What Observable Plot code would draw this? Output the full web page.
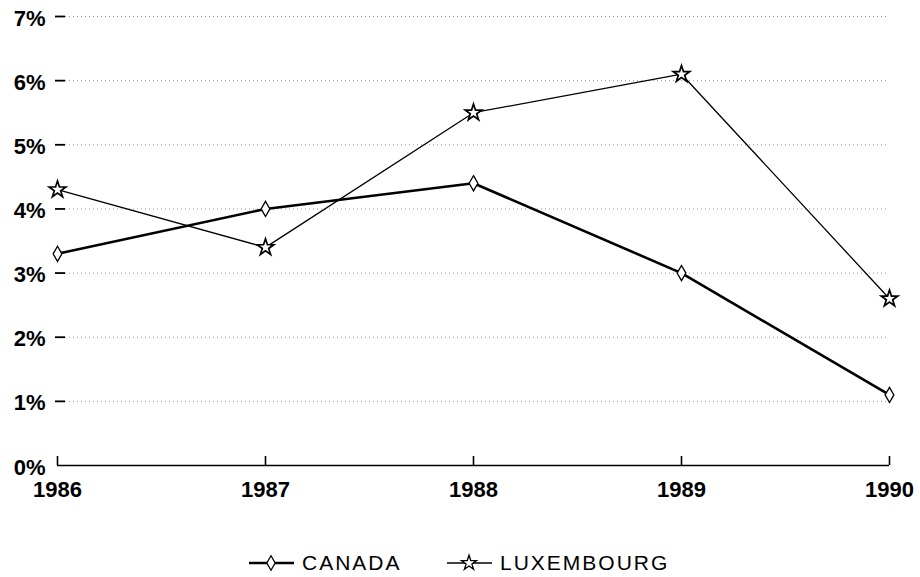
<!DOCTYPE html>
<html>
<head>
<meta charset="utf-8">
<script src="https://cdn.jsdelivr.net/npm/d3@7"></script>
<script src="https://cdn.jsdelivr.net/npm/@observablehq/plot@0.6"></script>
<style>
  body { margin: 0; background: #fff; font-family: "Liberation Sans", Arial, sans-serif; }
  #legend { position: relative; width: 920px; height: 57px; }
  .item { position: absolute; top: 0; height: 57px; display: flex; align-items: center; font-size: 21px; color: #000; letter-spacing: 2px; }
  .item svg { margin-right: 8px; }
</style>
</head>
<body>
<div id="chart"></div>
<div id="legend"></div>
<script>
const years = [1986, 1987, 1988, 1989, 1990];
const canada = [3.3, 4.0, 4.4, 3.0, 1.1];
const luxembourg = [4.3, 3.4, 5.5, 6.1, 2.6];
const yTicks = [0, 1, 2, 3, 4, 5, 6, 7];
const tickMarks = [1, 2, 3, 4, 5, 6, 7];
const gridTicks = [1, 2, 3, 4, 5, 6, 7];
const seriesNames = ["CANADA", "LUXEMBOURG"];

const canadaData = years.map((y, i) => ({year: y, value: canada[i]}));
const luxData = years.map((y, i) => ({year: y, value: luxembourg[i]}));

const fontFam = "'Liberation Sans', Arial, sans-serif";

const plot = Plot.plot({
  width: 920,
  height: 520,
  marginTop: 16,
  marginBottom: 55,
  marginLeft: 57,
  marginRight: 31,
  style: {fontFamily: fontFam, background: "#fff"},
  x: {domain: [1986, 1990]},
  y: {domain: [0, 7]},
  marks: [
    Plot.gridY(gridTicks, {stroke: "#999", strokeOpacity: 1, strokeWidth: 1, strokeDasharray: "1,3"}),
    Plot.axisY(tickMarks, {tickSize: 10, dx: 8, tickFormat: () => "", stroke: "#000", strokeWidth: 1.8, label: null}),
    Plot.axisY(yTicks, {tickSize: 0, dy: 2, tickPadding: 12, tickFormat: d => d + "%", fontSize: 22, fontWeight: "bold", label: null}),
    Plot.ruleY([0], {stroke: "#000", strokeWidth: 1.6}),
    Plot.axisX(years, {tickSize: 9, dy: -9, tickFormat: () => "", label: null, strokeWidth: 1.6}),
    Plot.axisX(years, {tickSize: 0, tickPadding: 16, tickFormat: d => String(d), fontSize: 22, fontWeight: "bold", label: null}),
    Plot.line(luxData, {x: "year", y: "value", stroke: "#000", strokeWidth: 1.3}),
    Plot.line(canadaData, {x: "year", y: "value", stroke: "#000", strokeWidth: 2.6}),
    Plot.dot(canadaData, {x: "year", y: "value", symbol: "diamond", r: 4.6, fill: "#fff", stroke: "#000", strokeWidth: 1.3}),
    Plot.dot(luxData, {x: "year", y: "value", symbol: "star", r: 5.2, fill: "#fff", stroke: "#000", strokeWidth: 1.7})
  ]
});
document.getElementById("chart").appendChild(plot);

// Legend
const legend = document.getElementById("legend");
function symbolPath(type, size) {
  return d3.symbol(type === "diamond" ? d3.symbolDiamond : d3.symbolStar, size)();
}
const items = [
  {name: seriesNames[0], sym: "diamond", left: 249, lw: 2.4},
  {name: seriesNames[1], sym: "star", left: 447, lw: 1.3}
];
items.forEach(it => {
  const div = document.createElement("div");
  div.className = "item";
  div.style.left = it.left + "px";
  div.style.top = "14px";
  const svg = d3.create("svg").attr("width", 45).attr("height", 20);
  svg.append("line").attr("x1", 0).attr("x2", 45).attr("y1", 10).attr("y2", 10).attr("stroke", "#000").attr("stroke-width", it.lw);
  svg.append("path").attr("d", symbolPath(it.sym, it.sym === "diamond" ? 60 : 70)).attr("transform", "translate(22,10)").attr("fill", "#fff").attr("stroke", "#000").attr("stroke-width", 1.3);
  div.appendChild(svg.node());
  const span = document.createElement("span");
  span.textContent = it.name;
  div.appendChild(span);
  legend.appendChild(div);
});
</script>
</body>
</html>
